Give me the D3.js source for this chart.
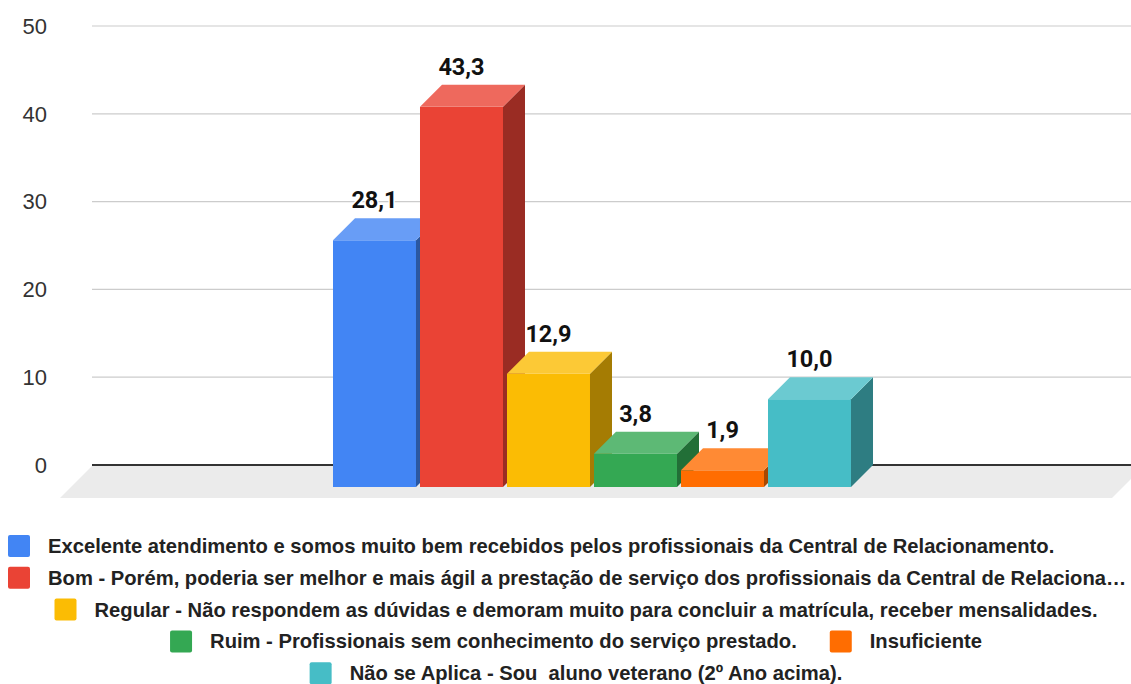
<!DOCTYPE html>
<html>
<head>
<meta charset="utf-8">
<script src="https://cdn.jsdelivr.net/npm/d3@7"></script>
<style>
  body { margin: 0; background: #fff; }
  svg { display: block; font-family: "Liberation Sans", Arial, sans-serif; }
  .legend text { white-space: pre; }
</style>
</head>
<body>
<svg id="chart" width="1131" height="684"></svg>
<script>
const categories = [''];
const seriesNames = [
    'Excelente atendimento e somos muito bem recebidos pelos profissionais da Central de Relacionamento.',
    'Bom - Porém, poderia ser melhor e mais ágil a prestação de serviço dos profissionais da Central de Relacionamento.',
    'Regular - Não respondem as dúvidas e demoram muito para concluir a matrícula, receber mensalidades.',
    'Ruim - Profissionais sem conhecimento do serviço prestado.',
    'Insuficiente',
    'Não se Aplica - Sou  aluno veterano (2º Ano acima).'
];
const seriesValues = [28.1, 43.3, 12.9, 3.8, 1.9, 10.0];
const seriesColors = ['#4285F4', '#EA4335', '#FBBC04', '#34A853', '#FF6D01', '#46BDC6'];
const yTicks = [0, 10, 20, 30, 40, 50];
const legendRows = [[0], [1], [2], [3, 4], [5]];
const legendAlign = ['left', 'left', 'center', 'center', 'center'];

const W = 1131, H = 684;
const DEPTH = 22, FLOOR_DEPTH = 32;
const plot = { left: 92, right: 1136, top: 26, bottom: 465 };

const svg = d3.select('#chart');

const y = d3.scaleLinear().domain([0, 50]).range([plot.bottom, plot.top]);
const x0 = d3.scaleBand().domain(categories).range([plot.left, plot.right]).paddingOuter(0.5077);
const x1 = d3.scaleBand().domain(d3.range(seriesValues.length)).range([0, x0.bandwidth()]).paddingInner(0.046);

// gridlines
svg.append('g').selectAll('line')
    .data(yTicks.filter(d => d !== 0))
    .join('line')
    .attr('x1', plot.left).attr('x2', W)
    .attr('y1', d => y(d)).attr('y2', d => y(d))
    .attr('stroke', '#ccc').attr('stroke-width', 1.2);

// y labels
svg.append('g').selectAll('text')
    .data(yTicks)
    .join('text')
    .attr('x', 47)
    .attr('y', d => y(d))
    .attr('dy', '0.35em')
    .attr('text-anchor', 'end')
    .attr('font-size', 22)
    .attr('fill', '#333')
    .text(d => d);

// floor
const floorPts = [
    [plot.left, plot.bottom + 1],
    [plot.right + 8, plot.bottom + 1],
    [plot.right + 8 - FLOOR_DEPTH, plot.bottom + 1 + FLOOR_DEPTH],
    [plot.left - FLOOR_DEPTH, plot.bottom + 1 + FLOOR_DEPTH]
];
svg.append('polygon')
    .attr('points', floorPts.map(p => p.join(',')).join(' '))
    .attr('fill', '#ebebeb');

// zero line
svg.append('line')
    .attr('x1', plot.left).attr('x2', W)
    .attr('y1', y(0)).attr('y2', y(0))
    .attr('stroke', '#333').attr('stroke-width', 2);

// 3D bars, left to right so later bars cover earlier side faces
const bars = svg.append('g');
seriesValues.forEach((v, i) => {
    const c = seriesColors[i];
    const bx = x0(categories[0]) + x1(i) - DEPTH;   // front-left x
    const bw = x1.bandwidth();
    const top = y(v) + DEPTH, bottom = y(0) + DEPTH;
    const g = bars.append('g');
    g.append('rect')
        .attr('x', bx).attr('y', top)
        .attr('width', bw).attr('height', bottom - top)
        .attr('fill', c);
    g.append('polygon')
        .attr('points', [[bx + bw, top], [bx + bw + DEPTH, top - DEPTH], [bx + bw + DEPTH, bottom - DEPTH], [bx + bw, bottom]].map(p => p.join(',')).join(' '))
        .attr('fill', d3.rgb(c).darker(1.17));
    g.append('polygon')
        .attr('points', [[bx, top], [bx + bw, top], [bx + bw + DEPTH, top - DEPTH], [bx + DEPTH, top - DEPTH]].map(p => p.join(',')).join(' '))
        .attr('fill', d3.interpolateRgb(c, '#fff')(0.2));
});

// value labels
const fmt = d => d3.format('.1f')(d).replace('.', ',');
svg.append('g').selectAll('text')
    .data(seriesValues)
    .join('text')
    .attr('x', (d, i) => x0(categories[0]) + x1(i) - DEPTH + x1.bandwidth() / 2)
    .attr('y', d => y(d) - 10)
    .attr('text-anchor', 'middle')
    .attr('font-family', 'Roboto, sans-serif')
    .attr('font-size', 23.5)
    .attr('font-weight', 'bold')
    .attr('fill', '#111')
    .attr('stroke', '#fff').attr('stroke-width', 3)
    .attr('paint-order', 'stroke')
    .text(fmt);

// legend
const legend = svg.append('g').attr('class', 'legend')
    .attr('font-size', 20.2).attr('font-weight', 'bold').attr('fill', '#222');
const SW = 22, GAP = 18, ITEM_GAP = 33, MAX_W = W - 4;
const rowY0 = 546, rowStep = 31.8;
legendRows.forEach((row, r) => {
    const cy = rowY0 + r * rowStep;
    const g = legend.append('g');
    let cx = 0;
    row.forEach((i, k) => {
        if (k > 0) cx += ITEM_GAP;
        g.append('rect')
            .attr('x', cx).attr('y', cy - SW / 2)
            .attr('width', SW).attr('height', SW)
            .attr('rx', 2)
            .attr('fill', seriesColors[i]);
        const t = g.append('text')
            .attr('x', cx + SW + GAP).attr('y', cy).attr('dy', '0.35em')
            .text(seriesNames[i]);
        const maxText = MAX_W - 8 - (cx + SW + GAP);
        let s = seriesNames[i];
        while (s.length > 1 && t.node().getComputedTextLength() > maxText) {
            s = s.slice(0, -1);
            t.text(s.trimEnd() + '…');
        }
        cx += SW + GAP + t.node().getComputedTextLength();
    });
    const startX = legendAlign[r] === 'left' ? 8 : Math.max(8, 576 - cx / 2);
    g.attr('transform', `translate(${startX},0)`);
});
</script>
</body>
</html>
